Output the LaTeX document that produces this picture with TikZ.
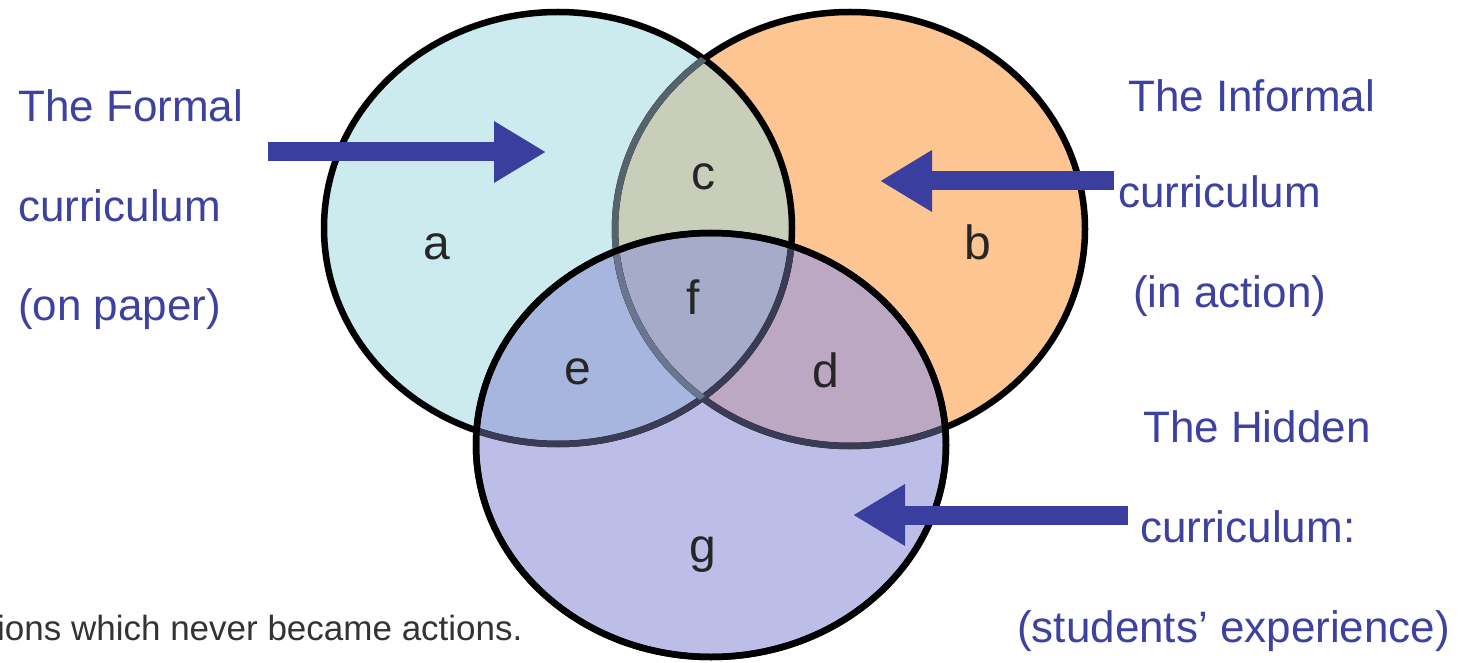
\documentclass[tikz,border=0pt]{standalone}
\usepackage{fontspec}
\setmainfont{Liberation Sans}
\usetikzlibrary{arrows.meta}
\definecolor{colA}{HTML}{CCEBEF}
\definecolor{colB}{HTML}{FDC592}
\definecolor{colG}{HTML}{BCBEE8}
\definecolor{colC}{HTML}{C8CEBA}
\definecolor{colE}{HTML}{A6B6DE}
\definecolor{colD}{HTML}{BCA8C2}
\definecolor{colF}{HTML}{A5ABC9}
\definecolor{edgeGrayA}{HTML}{55646B}
\definecolor{edgeNavy}{HTML}{3A3C55}
\definecolor{edgeGrayF}{HTML}{6A7590}
\definecolor{arrblue}{HTML}{3A3F9F}
\definecolor{labblue}{HTML}{3D42A0}
\definecolor{footgray}{HTML}{333333}
\def\ellA{(558,228) ellipse [x radius=234pt, y radius=216pt]}
\def\ellB{(850,229) ellipse [x radius=235pt, y radius=217pt]}
\def\ellG{(711,445) ellipse [x radius=235pt, y radius=212pt]}
\tikzset{
  outline/.style={line width=6.5pt},
  lab/.style={text=labblue, font=\fontsize{44}{50}\selectfont, inner sep=0pt, anchor=base west},
  region/.style={text=black!85, font=\fontsize{48}{54}\selectfont, inner sep=0pt, anchor=base},
  foot/.style={text=footgray, font=\fontsize{35}{40}\selectfont, inner sep=0pt, anchor=base west},
  bigarrow/.style={draw=arrblue, line width=19pt, -{Triangle[length=52pt,width=58pt]}}
}
\begin{document}
\begin{tikzpicture}[x=1pt,y=-1pt]
\useasboundingbox (0,0) rectangle (1468,663);
% region fills
\fill[colA] \ellA;
\fill[colB] \ellB;
\fill[colG] \ellG;
\begin{scope}\clip \ellA; \fill[colC] \ellB; \end{scope}
\begin{scope}\clip \ellA; \fill[colE] \ellG; \end{scope}
\begin{scope}\clip \ellB; \fill[colD] \ellG; \end{scope}
\begin{scope}\clip \ellA; \clip \ellB; \fill[colF] \ellG; \end{scope}
% outlines
\draw[outline, black] \ellB;
\draw[outline, black] \ellA;
\draw[outline, black] \ellG;
\begin{scope}\clip \ellA; \draw[outline, edgeGrayA] \ellB; \end{scope}
\begin{scope}\clip \ellG; \draw[outline, edgeNavy] \ellA; \draw[outline, edgeNavy] \ellB; \end{scope}
\begin{scope}\clip \ellA; \clip \ellG; \draw[outline, edgeGrayF] \ellB; \end{scope}
\draw[outline, black] \ellG;
% region letters
\node[region] (ra) at (437,260) {a};
\node[region] (rb) at (978,260) {b};
\node[region] (rc) at (703,190) {c};
\node[region] (rf) at (693,315) {f};
\node[region] (re) at (578,384) {e};
\node[region] (rd) at (826,387) {d};
\node[region] (rg) at (703,562) {g};
% labels
\node[lab] (f1) at (18,122) {The Formal};
\node[lab] (f2) at (18,222) {curriculum};
\node[lab] (f3) at (18,320) {(on paper)};
\node[lab] (i1) at (1128,112) {The Informal};
\node[lab] (i2) at (1118,208) {curriculum};
\node[lab] (i3) at (1133,308) {(in action)};
\node[lab] (h1) at (1143,442) {The Hidden};
\node[lab] (h2) at (1140,542) {curriculum:};
\node[lab] (h3) at (1017,642) {(students’ experience)};
\node[foot] (ft) at (-3,640) {ions which never became actions.};
% arrows
\coordinate (fT) at (268,152);
\coordinate (fH) at (546,152);
\coordinate (iT) at (1114,181);
\coordinate (iH) at (880,181);
\coordinate (hT) at (1128,515);
\coordinate (hH) at (853,515);
\draw[bigarrow] (fT) -- (fH);
\draw[bigarrow] (iT) -- (iH);
\draw[bigarrow] (hT) -- (hH);
\end{tikzpicture}
\end{document}
